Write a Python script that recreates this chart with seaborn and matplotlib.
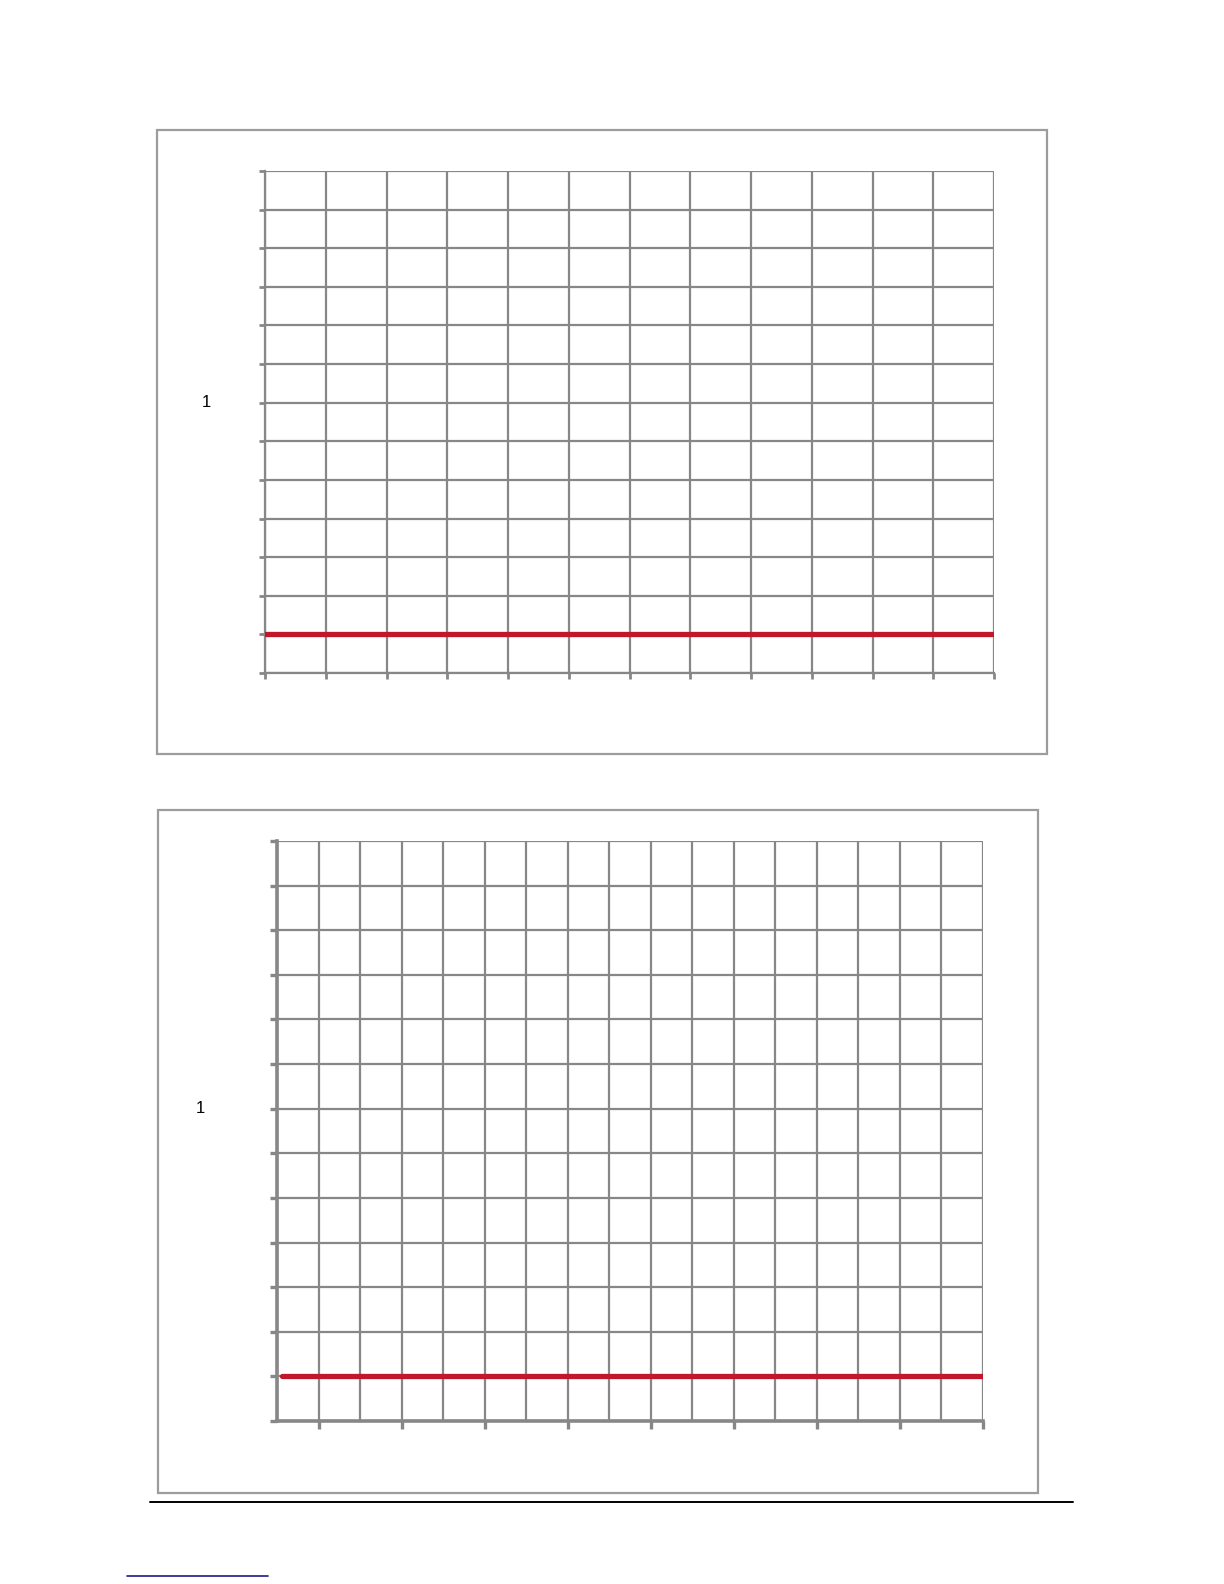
import matplotlib
matplotlib.use("Agg")
import matplotlib.pyplot as plt
import seaborn as sns
import pandas as pd
from matplotlib.patches import Rectangle
from matplotlib.lines import Line2D

# chart 1: 12 x-intervals, 13 y-intervals, flat red series at 1
top_x = [0, 1, 2, 3, 4, 5, 6, 7, 8, 9, 10, 11, 12]
top_y = [1, 1, 1, 1, 1, 1, 1, 1, 1, 1, 1, 1, 1]
top_xticks = [0, 1, 2, 3, 4, 5, 6, 7, 8, 9, 10, 11, 12]
top_yticks = [0, 1, 2, 3, 4, 5, 6, 7, 8, 9, 10, 11, 12, 13]

# chart 2: 17 x-intervals, ticks on every second line
bot_x = [0.12, 1, 3, 5, 7, 9, 11, 13, 15, 17]
bot_y = [1, 1, 1, 1, 1, 1, 1, 1, 1, 1]
bot_xticks = [1, 3, 5, 7, 9, 11, 13, 15, 17]
bot_xgrid = [0, 1, 2, 3, 4, 5, 6, 7, 8, 9, 10, 11, 12, 13, 14, 15, 16, 17]
bot_yticks = [0, 1, 2, 3, 4, 5, 6, 7, 8, 9, 10, 11, 12, 13]

axis_label = "1"

sns.set_style("white")
plt.rcParams['font.family'] = ['Liberation Sans', 'DejaVu Sans']

W, H = 1224, 1584
fig = plt.figure(figsize=(W / 100, H / 100), dpi=100)
GRID = "#878787"
RED = "#c0172a"


def fx(px):
    return px / W


def fy(py):
    return 1 - py / H


def frame(x0, y0, x1, y1):
    fig.patches.append(Rectangle((fx(x0), fy(y1)), fx(x1 - x0), (y1 - y0) / H,
                                 transform=fig.transFigure, fill=False,
                                 edgecolor="#9c9c9c", lw=1.6, zorder=0))


def style_axes(ax, spine_lw):
    for s in ["top", "right"]:
        ax.spines[s].set_visible(False)
    for s in ["left", "bottom"]:
        ax.spines[s].set_color(GRID)
        ax.spines[s].set_linewidth(spine_lw)
    ax.grid(True, which="both", color=GRID, lw=1.6)
    ax.set_axisbelow(True)
    ax.tick_params(axis="y", which="major", direction="out", length=4,
                   width=2, color=GRID, labelleft=False, left=True)
    ax.tick_params(axis="x", which="major", direction="out", length=4,
                   width=2, color=GRID, labelbottom=False, bottom=True)
    ax.tick_params(axis="x", which="minor", length=0)


frame(157, 130, 1047, 754)
frame(158, 810, 1038, 1493)

# top chart
ax1 = fig.add_axes([fx(265), fy(673), fx(994 - 265), (673 - 171) / H])
df1 = pd.DataFrame({"x": top_x, "y": top_y})
sns.lineplot(data=df1, x="x", y="y", color=RED, lw=3.8, ax=ax1, zorder=5)
ax1.set_xlim(0, 12)
ax1.set_ylim(0, 13)
ax1.set_xticks(top_xticks)
ax1.set_yticks(top_yticks)
style_axes(ax1, 1.6)
ax1.set_xlabel("")
ax1.set_ylabel(axis_label, rotation=0, fontsize=12, color="black",
               ha="center", va="center")
ax1.yaxis.set_label_coords((206 - 265) / (994 - 265), 7 / 13)

# bottom chart
ax2 = fig.add_axes([fx(277), fy(1421), fx(983 - 277), (1421 - 841) / H])
df2 = pd.DataFrame({"x": bot_x, "y": bot_y})
sns.lineplot(data=df2, x="x", y="y", color=RED, lw=3.8, ax=ax2, zorder=5)
ax2.set_xlim(0, 17)
ax2.set_ylim(0, 13)
ax2.set_xticks(bot_xticks)
ax2.set_xticks(bot_xgrid, minor=True)
ax2.set_yticks(bot_yticks)
style_axes(ax2, 2.6)
ax2.tick_params(axis="x", which="major", length=6, width=2.4)
ax2.tick_params(axis="y", which="major", length=5, width=2.4)
ax2.set_xlabel("")
ax2.set_ylabel(axis_label, rotation=0, fontsize=12, color="black",
               ha="center", va="center")
ax2.yaxis.set_label_coords((200 - 277) / (983 - 277), 7 / 13)

# page rule and link underline
fig.add_artist(Line2D([fx(150), fx(1073)], [fy(1502), fy(1502)],
                      transform=fig.transFigure, color="black", lw=1.4))
fig.add_artist(Line2D([fx(127), fx(268)], [fy(1576), fy(1576)],
                      transform=fig.transFigure, color="#1a1a8c", lw=1.2))

fig.savefig("out.png", dpi=100)
